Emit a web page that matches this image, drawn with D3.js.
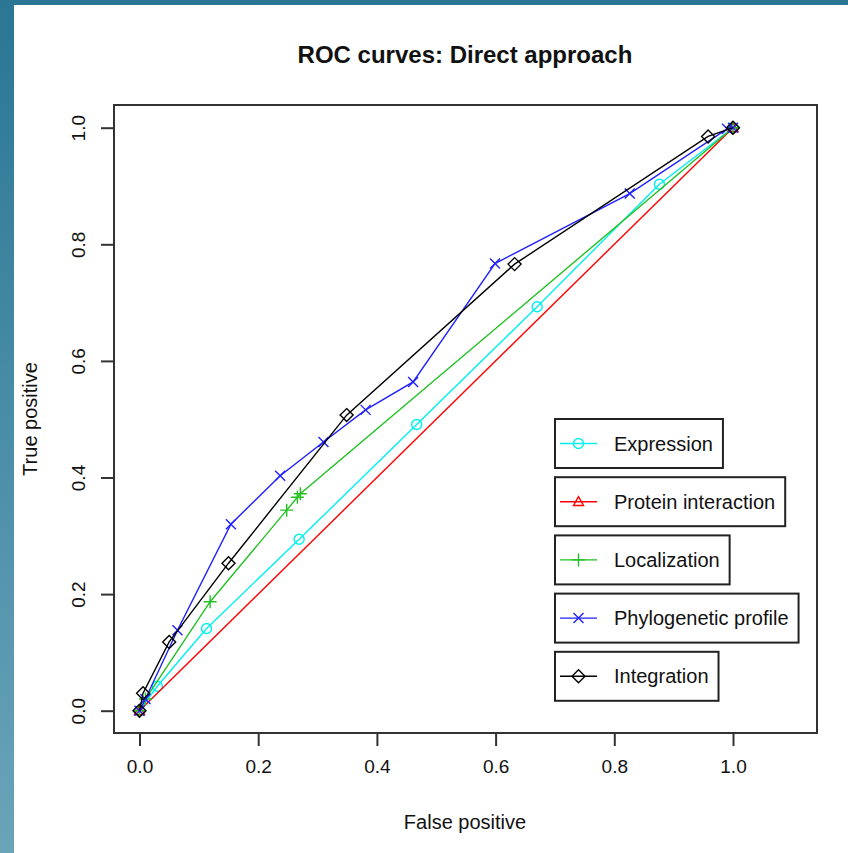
<!DOCTYPE html>
<html>
<head>
<meta charset="utf-8">
<script src="https://cdn.jsdelivr.net/npm/d3@7"></script>
<style>
  body { margin: 0; padding: 0; background: #fff; }
  text { font-family: "Liberation Sans", Arial, sans-serif; fill: #111; }
</style>
</head>
<body>
<div id="chart"></div>
<script>
// values (false positive, true positive)
var seriesNames = ["Expression", "Protein interaction", "Localization", "Phylogenetic profile", "Integration"];
var seriesColors = ["#00f0f0", "#ff0000", "#22c022", "#2020ff", "#000000"];
var seriesShapes = ["circle", "triangle", "plus", "times", "diamond"];

var expressionFP = [0, 0.030, 0.113, 0.269, 0.467, 0.670, 0.876, 1];
var expressionTP = [0, 0.042, 0.141, 0.294, 0.491, 0.693, 0.903, 1];

var proteinFP = [0, 1];
var proteinTP = [0, 1];

var localizationFP = [0, 0.010, 0.119, 0.248, 0.266, 0.271, 1];
var localizationTP = [0, 0.020, 0.187, 0.344, 0.366, 0.372, 1];

var phyloFP = [0, 0.010, 0.064, 0.154, 0.237, 0.310, 0.381, 0.461, 0.599, 0.826, 0.990, 1];
var phyloTP = [0, 0.020, 0.138, 0.320, 0.403, 0.461, 0.516, 0.564, 0.767, 0.887, 0.998, 1];

var integrationFP = [0, 0.006, 0.050, 0.150, 0.349, 0.632, 0.958, 1];
var integrationTP = [0, 0.030, 0.118, 0.253, 0.507, 0.766, 0.985, 1];

var tickValues = [0, 0.2, 0.4, 0.6, 0.8, 1.0];

var fpLists = [expressionFP, proteinFP, localizationFP, phyloFP, integrationFP];
var tpLists = [expressionTP, proteinTP, localizationTP, phyloTP, integrationTP];

var width = 848, height = 853;
var box = { left: 114, right: 817, top: 105, bottom: 733 };

var svg = d3.select("#chart").append("svg")
    .attr("width", width)
    .attr("height", height);

// slide background
var grad = svg.append("defs").append("linearGradient")
    .attr("id", "bg").attr("x1", 0).attr("y1", 0).attr("x2", 0).attr("y2", 1);
grad.append("stop").attr("offset", "0%").attr("stop-color", "#2a7694");
grad.append("stop").attr("offset", "100%").attr("stop-color", "#6aa4b9");
svg.append("rect").attr("width", width).attr("height", height).attr("fill", "url(#bg)");
svg.append("rect").attr("x", 14).attr("y", 5).attr("width", width - 14).attr("height", height - 5).attr("fill", "#fff");

var x = d3.scaleLinear().domain([0, 1]).range([139.5, 733]);
var y = d3.scaleLinear().domain([0, 1]).range([710.7, 127.7]);

// marker paths, s = half size
function marker(shape, s) {
    if (shape == "circle") {
        return "M" + (-s) + ",0A" + s + "," + s + " 0 1,0 " + s + ",0A" + s + "," + s + " 0 1,0 " + (-s) + ",0";
    } else if (shape == "triangle") {
        return "M0," + (-s) + "L" + s + "," + (s * 0.75) + "L" + (-s) + "," + (s * 0.75) + "Z";
    } else if (shape == "plus") {
        return "M" + (-s) + ",0L" + s + ",0M0," + (-s) + "L0," + s;
    } else if (shape == "times") {
        return "M" + (-s) + "," + (-s) + "L" + s + "," + s + "M" + (-s) + "," + s + "L" + s + "," + (-s);
    } else {
        return "M0," + (-s) + "L" + s + ",0L0," + s + "L" + (-s) + ",0Z";
    }
}
var markerSize = { circle: 5, triangle: 5, plus: 6.5, times: 5, diamond: 6.5 };

// axes
var xAxis = d3.axisBottom(x)
    .tickValues(tickValues)
    .tickFormat(d3.format(".1f"))
    .tickSize(13)
    .tickPadding(14);
var gx = svg.append("g")
    .attr("transform", "translate(0," + box.bottom + ")")
    .call(xAxis);
gx.select(".domain").remove();
gx.selectAll("line").attr("stroke", "#333").attr("stroke-width", 2);
gx.selectAll("text").style("font-size", "19px").attr("fill", "#222");

var yAxis = d3.axisLeft(y)
    .tickValues(tickValues)
    .tickFormat(d3.format(".1f"))
    .tickSize(13);
var gy = svg.append("g")
    .attr("transform", "translate(" + box.left + ",0)")
    .call(yAxis);
gy.select(".domain").remove();
gy.selectAll("line").attr("stroke", "#333").attr("stroke-width", 2);
gy.selectAll("text")
    .attr("transform", "rotate(-90)")
    .attr("x", 0)
    .attr("y", -29)
    .attr("dy", 0)
    .attr("text-anchor", "middle")
    .style("font-size", "19px")
    .attr("fill", "#222");

// plot frame
svg.append("rect")
    .attr("x", box.left).attr("y", box.top)
    .attr("width", box.right - box.left).attr("height", box.bottom - box.top)
    .attr("fill", "none").attr("stroke", "#333").attr("stroke-width", 2);

// curves
var line = d3.line().x(function(d) { return x(d.fp); }).y(function(d) { return y(d.tp); });

for (var i = 0; i < seriesNames.length; i++) {
    var pts = fpLists[i].map(function(v, j) { return { fp: v, tp: tpLists[i][j] }; });
    var g = svg.append("g");
    g.append("path")
        .datum(pts)
        .attr("d", line)
        .attr("fill", "none")
        .attr("stroke", seriesColors[i])
        .attr("stroke-width", 1.4);
    var shape = seriesShapes[i];
    g.selectAll("path.pt")
        .data(pts)
        .enter()
        .append("path")
        .attr("class", "pt")
        .attr("transform", function(d) { return "translate(" + x(d.fp) + "," + y(d.tp) + ")"; })
        .attr("d", marker(shape, markerSize[shape]))
        .attr("fill", "none")
        .attr("stroke", seriesColors[i])
        .attr("stroke-width", 1.4);
}

// titles
svg.append("text")
    .attr("x", 465).attr("y", 63)
    .attr("text-anchor", "middle")
    .style("font-size", "24px")
    .style("font-weight", "bold")
    .text("ROC curves: Direct approach");

svg.append("text")
    .attr("x", 465).attr("y", 829)
    .attr("text-anchor", "middle")
    .style("font-size", "20px")
    .attr("fill", "#222")
    .text("False positive");

svg.append("text")
    .attr("transform", "translate(37,419) rotate(-90)")
    .attr("text-anchor", "middle")
    .style("font-size", "20px")
    .attr("fill", "#222")
    .text("True positive");

// legend: one box per series
var legendTop = 419, legendStep = 58.2, legendH = 49, legendLeft = 555;
seriesNames.forEach(function(name, i) {
    var lg = svg.append("g")
        .attr("transform", "translate(" + legendLeft + "," + (legendTop + i * legendStep) + ")");
    var rect = lg.append("rect")
        .attr("height", legendH)
        .attr("fill", "#fff")
        .attr("stroke", "#222")
        .attr("stroke-width", 2);
    lg.append("line")
        .attr("x1", 5).attr("x2", 42)
        .attr("y1", legendH / 2).attr("y2", legendH / 2)
        .attr("stroke", seriesColors[i]).attr("stroke-width", 1.4);
    lg.append("path")
        .attr("transform", "translate(23.5," + (legendH / 2) + ")")
        .attr("d", marker(seriesShapes[i], markerSize[seriesShapes[i]]))
        .attr("fill", "none")
        .attr("stroke", seriesColors[i])
        .attr("stroke-width", 1.4);
    var t = lg.append("text")
        .attr("x", 59)
        .attr("y", legendH / 2 + 7)
        .style("font-size", "20px")
        .attr("fill", "#222")
        .text(name);
    rect.attr("width", 59 + t.node().getComputedTextLength() + 10);
});
</script>
</body>
</html>
